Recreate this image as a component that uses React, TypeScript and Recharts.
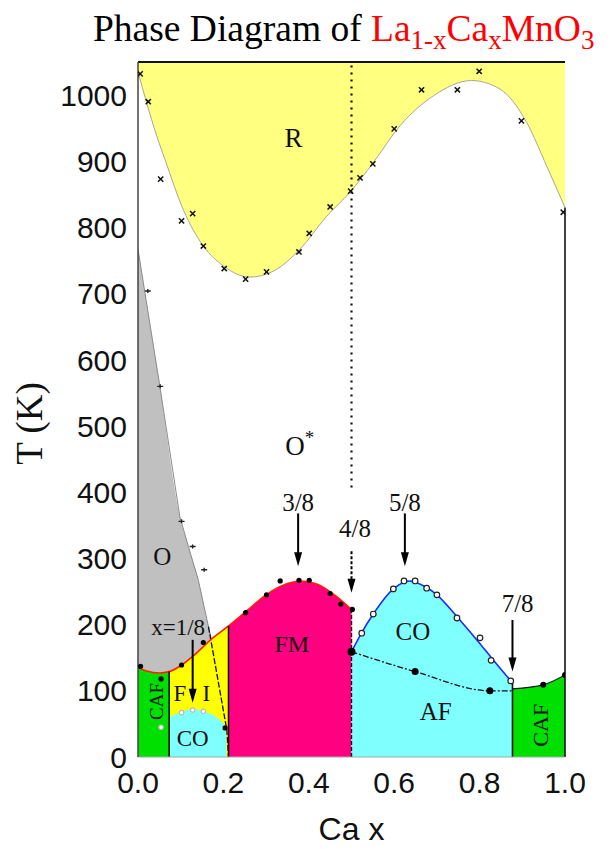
import React from "react"
import {
  ComposedChart,
  Area,
  Line,
  Scatter,
  XAxis,
  YAxis,
  ReferenceLine,
} from "recharts"

const T_MAX = 1050
const SERIF = "'Liberation Serif', 'Times New Roman', serif"
const SANS = "'Liberation Sans', Arial, sans-serif"

// R / O* structural boundary
const rX = [0, 0.02, 0.044, 0.063, 0.106, 0.153, 0.2, 0.262, 0.317, 0.379, 0.442, 0.496, 0.551, 0.614, 0.692, 0.781, 0.848, 0.91, 0.957, 1.0]
const rT = [1035, 989, 938, 903, 827, 772, 742, 725, 734, 767, 817, 853, 898, 954, 999, 1022, 1009, 959, 893, 830]
// measured R points (crosses)
const rPtX = [0.005, 0.024, 0.053, 0.102, 0.128, 0.153, 0.202, 0.252, 0.301, 0.377, 0.401, 0.45, 0.498, 0.52, 0.55, 0.6, 0.664, 0.748, 0.799, 0.898, 0.996]
const rPtT = [1032, 990, 873, 810, 821, 772, 738, 722, 733, 763, 791, 831, 855, 875, 896, 949, 1008, 1008, 1036, 961, 823]

// magnetic ordering line, x = 0 .. 0.5
const tcX = [0, 0.02, 0.05, 0.073, 0.1, 0.13, 0.17, 0.212, 0.255, 0.3, 0.35, 0.38, 0.42, 0.46, 0.5]
const tcT = [135, 130, 127, 129, 138, 153, 177, 198, 221, 245, 262, 266, 261, 245, 223]
const tcPtX = [0.006, 0.054, 0.102, 0.153, 0.252, 0.301, 0.333, 0.377, 0.401, 0.45, 0.475, 0.502, 0.204]
const tcPtT = [137, 118, 139, 173, 218, 245, 266, 267, 267, 247, 231, 223, 44]

// O region (gray wedge): upper edge and the ordering line below it
const oX = [0, 0.05, 0.098, 0.118, 0.141, 0.165, 0.172]
const oTop = [767, 565, 363, 318, 268, 197, 178]
const oBottom = [135, 127, 137, 146, 159, 174, 178]
const oPtX = [0.023, 0.052, 0.102, 0.128, 0.155]
const oPtT = [704, 560, 356, 318, 283]
// continuation of the O edge below the ordering line
const oTailX = [0.165, 0.208, 0.212]
const oTailT = [197, 41, 0]

// low-x charge ordered dome
const coLowX = [0.073, 0.1, 0.128, 0.16, 0.19, 0.207]
const coLowT = [60, 68, 72, 68, 57, 45]
const coLowPtX = [0.102, 0.128, 0.153, 0.054]
const coLowPtT = [67, 71, 69, 45]

// high-x charge ordered dome
const coX = [0.5, 0.524, 0.551, 0.598, 0.636, 0.676, 0.7, 0.747, 0.8, 0.83, 0.877]
const coT = [159, 188, 216, 254, 266, 256, 245, 212, 172, 148, 112]
const coPtX = [0.524, 0.551, 0.598, 0.623, 0.649, 0.676, 0.7, 0.747, 0.801, 0.827, 0.873]
const coPtT = [187, 216, 254, 266, 266, 255, 245, 210, 180, 146, 115]

// AF transition inside the CO dome
const afX = [0.5, 0.649, 0.824, 0.877]
const afT = [159, 129, 100, 100]

// canted AF at high x
const cafX = [0.877, 0.949, 1.0]
const cafT = [103, 109, 124]

const bigDots = [
  { x: 0.5, T: 159, r: 4 },
  { x: 0.649, T: 129, r: 3.5 },
  { x: 0.824, T: 100, r: 3.5 },
  { x: 0.949, T: 109, r: 3 },
  { x: 1.0, T: 124, r: 3 },
]

const CAF_EDGE = 0.073
const FM_EDGE = 0.212
const HALF = 0.5
const CAF_HIGH_EDGE = 0.877

const zip = (xs: number[], ts: number[]) => xs.map((x, i) => ({ x, T: ts[i] }))
const upTo = (xs: number[], ts: number[], lo: number, hi: number) =>
  zip(xs, ts).filter((d) => d.x >= lo && d.x <= hi)

const rData = zip(rX, rT)
const tcData = zip(tcX, tcT)
const oData = oX.map((x, i) => ({ x, lo: oBottom[i], hi: oTop[i] }))

const arrows = [
  { x: 0.128, from: 177, to: 82, dashed: false },
  { x: 0.375, from: 368, to: 288, dashed: false },
  { x: 0.5, from: 311, to: 248, dashed: true },
  { x: 0.625, from: 368, to: 288, dashed: false },
  { x: 0.877, from: 207, to: 129, dashed: false },
]

const notes = [
  { x: 0.364, T: 921, text: "R", size: 27 },
  { x: 0.379, T: 457, text: "O", sup: "*", size: 27 },
  { x: 0.057, T: 290, text: "O", size: 25 },
  { x: 0.36, T: 159, text: "FM", size: 24 },
  { x: 0.644, T: 177, text: "CO", size: 25 },
  { x: 0.697, T: 56, text: "AF", size: 25 },
  { x: 0.128, T: 17, text: "CO", size: 23 },
  { x: 0.098, T: 84, text: "F", size: 23 },
  { x: 0.16, T: 84, text: "I", size: 23 },
  { x: 0.094, T: 185, text: "x=1/8", size: 23 },
  { x: 0.375, T: 372, text: "3/8", size: 25 },
  { x: 0.625, T: 372, text: "5/8", size: 25 },
  { x: 0.508, T: 333, text: "4/8", size: 25 },
  { x: 0.889, T: 219, text: "7/8", size: 25 },
  { x: 0.043, T: 84, text: "CAF", size: 19, rotate: true },
  { x: 0.943, T: 48, text: "CAF", size: 22, rotate: true },
]

const crossMark = ({ cx, cy }: any) => (
  <path
    d={`M${cx - 2.6},${cy - 2.6}L${cx + 2.6},${cy + 2.6}M${cx - 2.6},${cy + 2.6}L${cx + 2.6},${cy - 2.6}`}
    stroke="#111"
    strokeWidth={1.5}
  />
)

const plusMark = ({ cx, cy }: any) => (
  <path
    d={`M${cx - 3},${cy}L${cx + 3},${cy}M${cx},${cy - 2}L${cx},${cy + 2}`}
    stroke="#222"
    strokeWidth={1.4}
  />
)

const dot = (r: number) => ({ cx, cy }: any) => <circle cx={cx} cy={cy} r={r} fill="#000" />

const openDot = (r: number, stroke: string) => ({ cx, cy }: any) => (
  <circle cx={cx} cy={cy} r={r} fill="#fff" stroke={stroke} strokeWidth={1.2} />
)

const sizedDot = ({ cx, cy, payload }: any) => <circle cx={cx} cy={cy} r={payload.r} fill="#000" />

const noteShape = ({ cx, cy, payload }: any) => {
  if (payload.rotate) {
    return (
      <text
        x={cx}
        y={cy}
        transform={`rotate(-90 ${cx} ${cy})`}
        textAnchor="middle"
        dominantBaseline="central"
        fontFamily={SERIF}
        fontSize={payload.size}
        fill="#111"
      >
        {payload.text}
      </text>
    )
  }
  return (
    <text x={cx} y={cy} textAnchor="middle" fontFamily={SERIF} fontSize={payload.size} fill="#111">
      {payload.text}
      {payload.sup && (
        <tspan dy={-11} fontSize={payload.size * 0.7}>
          {payload.sup}
        </tspan>
      )}
    </text>
  )
}

const arrowShape = (dashed: boolean) => (p: any) => {
  const { x1, y1, x2, y2 } = p
  const head = 14
  const half = 4
  return (
    <g>
      <line
        x1={x1}
        y1={y1}
        x2={x2}
        y2={y2 - head + 2}
        stroke="#000"
        strokeWidth={2}
        strokeDasharray={dashed ? "3 2" : undefined}
      />
      <polygon points={`${x2},${y2} ${x2 - half},${y2 - head} ${x2 + half},${y2 - head}`} fill="#000" />
    </g>
  )
}

const majorTicks = [0, 100, 200, 300, 400, 500, 600, 700, 800, 900, 1000]
const minorTicks = [50, 150, 250, 350, 450, 550, 650, 750, 850, 950, 1050]
const rightMajor = [0, 100, 200, 300, 400, 500, 600, 700, 800]
const rightMinor = [50, 150, 250, 350, 450, 550, 650, 750]
const xTicks = [0, 0.2, 0.4, 0.6, 0.8, 1.0]

export default function App() {
  const tcAt = (x: number) => tcT[tcX.indexOf(x)]
  const coEnd = coT[coT.length - 1]
  const rEnd = rT[rT.length - 1]

  return (
    <div style={{ position: "absolute", left: 0, top: 0, width: 616, height: 849, background: "#fff" }}>
      <svg width={616} height={60} style={{ position: "absolute", left: 0, top: 0 }}>
        <text x={93} y={41} fontFamily={SERIF} fontSize={37.5} fill="#000">
          Phase Diagram of{" "}
          <tspan fill="#ff0000">La</tspan>
          <tspan fill="#ff0000" fontSize={27} dy={8}>1-x</tspan>
          <tspan fill="#ff0000" dy={-8}>Ca</tspan>
          <tspan fill="#ff0000" fontSize={27} dy={8}>x</tspan>
          <tspan fill="#ff0000" dy={-8}>MnO</tspan>
          <tspan fill="#ff0000" fontSize={27} dy={8}>3</tspan>
        </text>
      </svg>
      <ComposedChart
        width={616}
        height={849}
        margin={{ top: 62, right: 51, bottom: 52, left: 0 }}
        style={{ position: "absolute", left: 0, top: 0 }}
      >
        <XAxis
          dataKey="x"
          type="number"
          domain={[0, 1]}
          ticks={xTicks}
          allowDataOverflow
          tickFormatter={(v: number) => v.toFixed(1)}
          tickLine={false}
          tickSize={0}
          tickMargin={15}
          height={40}
          axisLine={{ stroke: "#9aa", strokeWidth: 1 }}
          tick={{ fontFamily: SANS, fontSize: 30, fill: "#111" }}
          label={({ viewBox }: any) => (
            <text
              x={viewBox.x + viewBox.width / 2}
              y={viewBox.y + 83}
              textAnchor="middle"
              fontFamily={SANS}
              fontSize={32}
              fill="#111"
            >
              Ca x
            </text>
          )}
        />
        <YAxis
          yAxisId="T"
          dataKey="T"
          type="number"
          domain={[0, T_MAX]}
          ticks={majorTicks}
          allowDataOverflow
          width={138}
          tickLine={false}
          tickSize={0}
          tickMargin={11}
          axisLine={{ stroke: "#444", strokeWidth: 1.5 }}
          tick={{ fontFamily: SANS, fontSize: 30, fill: "#111" }}
          label={({ viewBox }: any) => {
            const cx = viewBox.x + 29
            const cy = viewBox.y + viewBox.height / 2 + 14
            return (
              <text
                x={cx}
                y={cy}
                transform={`rotate(-90 ${cx} ${cy})`}
                textAnchor="middle"
                dominantBaseline="central"
                fontFamily={SERIF}
                fontSize={37}
                fill="#111"
              >
                T (K)
              </text>
            )
          }}
        />
        <YAxis yAxisId="inL" type="number" domain={[0, T_MAX]} ticks={majorTicks} mirror tick={false} tickSize={6} axisLine={false} tickLine={{ stroke: "#111", strokeWidth: 1.3 }} />
        <YAxis yAxisId="inLm" type="number" domain={[0, T_MAX]} ticks={minorTicks} mirror tick={false} tickSize={4} axisLine={false} tickLine={{ stroke: "#111", strokeWidth: 1.3 }} />
        <YAxis yAxisId="inR" orientation="right" type="number" domain={[0, T_MAX]} ticks={rightMajor} mirror tick={false} tickSize={6} axisLine={false} tickLine={{ stroke: "#111", strokeWidth: 1.3 }} />
        <YAxis yAxisId="inRm" orientation="right" type="number" domain={[0, T_MAX]} ticks={rightMinor} mirror tick={false} tickSize={4} axisLine={false} tickLine={{ stroke: "#111", strokeWidth: 1.3 }} />

        {/* R phase above the structural boundary */}
        <Area yAxisId="T" data={rData} dataKey="T" type="monotone" baseValue={T_MAX} fill="#ffff80" fillOpacity={1} stroke="none" isAnimationActive={false} />
        {/* O wedge */}
        <Area yAxisId="T" data={oData} dataKey={(d: any) => [d.lo, d.hi]} type="monotone" fill="#c0c0c0" fillOpacity={1} stroke="none" isAnimationActive={false} />
        {/* FM, FI and CAF below the ordering line, painted right to left */}
        <Area yAxisId="T" data={tcData} dataKey="T" type="monotone" baseValue={0} fill="#ff0080" fillOpacity={1} stroke="none" isAnimationActive={false} />
        <Area yAxisId="T" data={upTo(tcX, tcT, 0, FM_EDGE)} dataKey="T" type="monotone" baseValue={0} fill="#ffff00" fillOpacity={1} stroke="none" isAnimationActive={false} />
        <Area yAxisId="T" data={upTo(tcX, tcT, 0, CAF_EDGE)} dataKey="T" type="monotone" baseValue={0} fill="#00e000" fillOpacity={1} stroke="none" isAnimationActive={false} />
        <Area yAxisId="T" data={zip(coLowX, coLowT)} dataKey="T" type="monotone" baseValue={0} fill="#80ffff" fillOpacity={1} stroke="none" isAnimationActive={false} />
        {/* CO / AF and CAF on the electron-doped side */}
        <Area yAxisId="T" data={zip(coX, coT)} dataKey="T" type="monotone" baseValue={0} fill="#80ffff" fillOpacity={1} stroke="none" isAnimationActive={false} />
        <Area yAxisId="T" data={zip(cafX, cafT)} dataKey="T" type="monotone" baseValue={0} fill="#00e000" fillOpacity={1} stroke="none" isAnimationActive={false} />

        {/* phase boundaries */}
        <Line yAxisId="T" data={rData} dataKey="T" type="monotone" stroke="#a8a890" strokeWidth={1} dot={false} isAnimationActive={false} />
        <Line yAxisId="T" data={zip(oX, oTop)} dataKey="T" type="linear" stroke="#8a8a8a" strokeWidth={1} dot={false} isAnimationActive={false} />
        <Line yAxisId="T" data={zip(oTailX, oTailT)} dataKey="T" type="linear" stroke="#111" strokeWidth={1.3} strokeDasharray="6 2" dot={false} isAnimationActive={false} />
        <Line yAxisId="T" data={tcData} dataKey="T" type="monotone" stroke="#ff2000" strokeWidth={1.6} dot={false} isAnimationActive={false} />
        <Line yAxisId="T" data={zip(coX, coT)} dataKey="T" type="monotone" stroke="#1a2cff" strokeWidth={1.6} dot={false} isAnimationActive={false} />
        <Line yAxisId="T" data={zip(afX, afT)} dataKey="T" type="monotone" stroke="#111" strokeWidth={1.3} strokeDasharray="6 2 2 2" dot={false} isAnimationActive={false} />
        <Line yAxisId="T" data={zip(cafX, cafT)} dataKey="T" type="monotone" stroke="#111" strokeWidth={1.2} dot={false} isAnimationActive={false} />

        <ReferenceLine yAxisId="T" segment={[{ x: CAF_EDGE, y: 0 }, { x: CAF_EDGE, y: tcAt(CAF_EDGE) }]} stroke="#111" strokeWidth={1.6} />
        <ReferenceLine yAxisId="T" segment={[{ x: FM_EDGE, y: 0 }, { x: FM_EDGE, y: tcAt(FM_EDGE) }]} stroke="#111" strokeWidth={1.6} />
        <ReferenceLine yAxisId="T" segment={[{ x: HALF, y: 0 }, { x: HALF, y: tcAt(HALF) }]} stroke="#111" strokeWidth={1.4} strokeDasharray="4 2" />
        <ReferenceLine yAxisId="T" segment={[{ x: CAF_HIGH_EDGE, y: 0 }, { x: CAF_HIGH_EDGE, y: coEnd }]} stroke="#111" strokeWidth={1.6} />
        <ReferenceLine yAxisId="T" segment={[{ x: 1, y: 0 }, { x: 1, y: rEnd }]} stroke="#111" strokeWidth={1.6} />
        <ReferenceLine yAxisId="T" segment={[{ x: HALF, y: 407 }, { x: HALF, y: T_MAX }]} stroke="#111" strokeWidth={2.2} strokeDasharray="2 5" />
        <ReferenceLine yAxisId="T" y={T_MAX} stroke="#111" strokeWidth={2} />

        {arrows.map((a, i) => (
          <ReferenceLine
            key={i}
            yAxisId="T"
            segment={[{ x: a.x, y: a.from }, { x: a.x, y: a.to }]}
            shape={arrowShape(a.dashed)}
          />
        ))}

        {/* measured points */}
        <Scatter yAxisId="T" data={zip(rPtX, rPtT)} dataKey="T" shape={crossMark} isAnimationActive={false} />
        <Scatter yAxisId="T" data={zip(oPtX, oPtT)} dataKey="T" shape={plusMark} isAnimationActive={false} />
        <Scatter yAxisId="T" data={zip(tcPtX, tcPtT)} dataKey="T" shape={dot(2.6)} isAnimationActive={false} />
        <Scatter yAxisId="T" data={zip(coLowPtX, coLowPtT)} dataKey="T" shape={openDot(2.2, "#bbb")} isAnimationActive={false} />
        <Scatter yAxisId="T" data={zip(coPtX, coPtT)} dataKey="T" shape={openDot(2.8, "#222")} isAnimationActive={false} />
        <Scatter yAxisId="T" data={bigDots} dataKey="T" shape={sizedDot} isAnimationActive={false} />

        <Scatter yAxisId="T" data={notes} dataKey="T" shape={noteShape} isAnimationActive={false} />
      </ComposedChart>
    </div>
  )
}
